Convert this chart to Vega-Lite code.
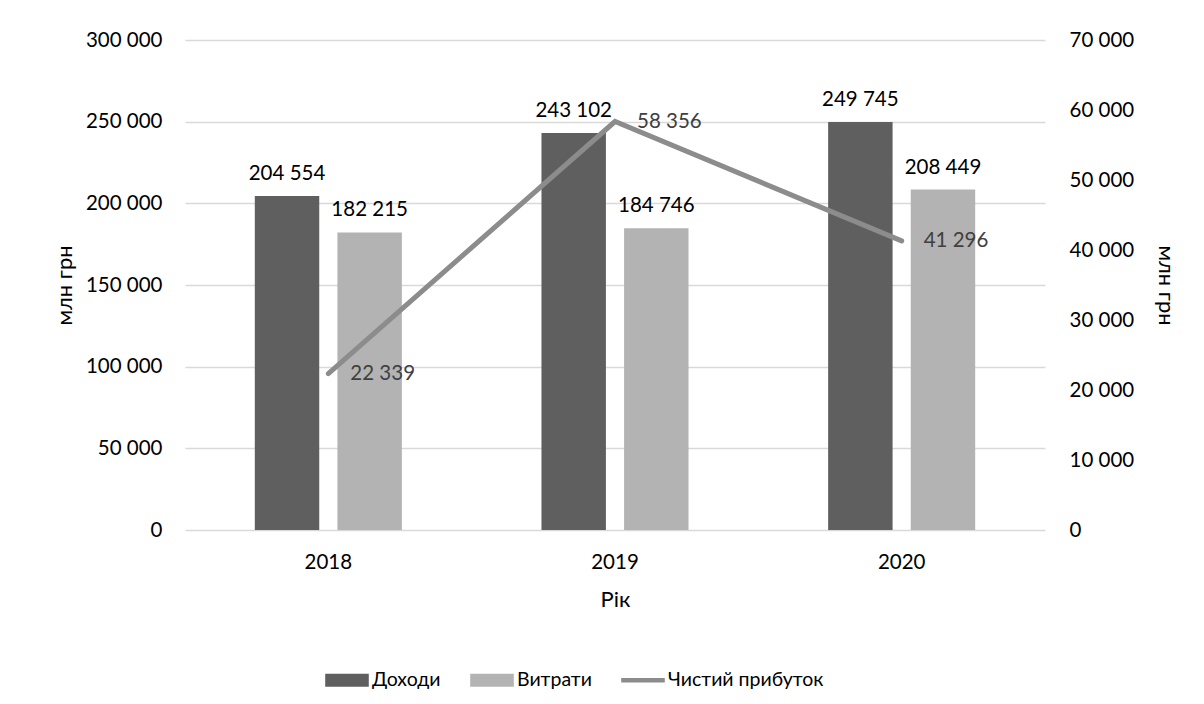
{
  "$schema": "https://vega.github.io/schema/vega-lite/v6.json",
  "width": 860,
  "height": 490,
  "autosize": {"type": "none"},
  "padding": {"left": 185, "top": 40, "right": 159, "bottom": 174},
  "background": "white",
  "config": {
    "font": "Lato",
    "locale": {"number": {"decimal": ",", "thousands": " ", "grouping": [3], "currency": ["", ""]}},
    "view": {"stroke": null},
    "axis": {"labelFont": "Lato", "titleFont": "Lato", "labelColor": "#000000", "titleColor": "#000000", "labelFontSize": 20.5, "titleFontSize": 22, "titleFontWeight": "normal", "domain": false, "ticks": false},
    "legend": {"labelFont": "Lato", "labelFontSize": 19.5, "labelColor": "#000000"}
  },
  "datasets": {
    "bars": [
      {"year": "2018", "series": "Доходи", "value": 204554},
      {"year": "2018", "series": "Витрати", "value": 182215},
      {"year": "2019", "series": "Доходи", "value": 243102},
      {"year": "2019", "series": "Витрати", "value": 184746},
      {"year": "2020", "series": "Доходи", "value": 249745},
      {"year": "2020", "series": "Витрати", "value": 208449}
    ],
    "profit": [
      {"year": "2018", "series": "Чистий прибуток", "profit": 22339},
      {"year": "2019", "series": "Чистий прибуток", "profit": 58356},
      {"year": "2020", "series": "Чистий прибуток", "profit": 41296}
    ]
  },
  "encoding": {
    "x": {
      "field": "year", "type": "nominal",
      "scale": {"paddingInner": 0.487, "paddingOuter": 0.2435},
      "axis": {"title": "Рік", "labelAngle": 0, "labelPadding": 22, "titlePadding": 17, "grid": false}
    }
  },
  "layer": [
    {
      "data": {"name": "bars"},
      "encoding": {
        "xOffset": {"field": "series", "type": "nominal", "sort": ["Доходи", "Витрати"], "scale": {"paddingInner": 0.22, "paddingOuter": 0}},
        "y": {
          "field": "value", "type": "quantitative",
          "scale": {"domain": [0, 300000], "nice": false},
          "axis": {"title": "млн грн", "values": [0, 50000, 100000, 150000, 200000, 250000, 300000], "format": ",d", "labelPadding": 23, "titlePadding": 9, "grid": true, "gridColor": "#d9d9d9", "gridWidth": 1.3}
        }
      },
      "layer": [
        {
          "mark": {"type": "bar"},
          "encoding": {
            "color": {
              "field": "series", "type": "nominal",
              "scale": {"domain": ["Доходи", "Витрати", "Чистий прибуток"], "range": ["#5f5f5f", "#b3b3b3", "#8c8c8c"]},
              "legend": {
                "title": null, "orient": "none", "legendX": 140, "legendY": 618, "direction": "horizontal",
                "symbolStrokeWidth": 0, "symbolSize": 1900, "columnPadding": 29, "labelOffset": 3,
                "symbolType": "M-1,-0.3H1V0.3H-1Z",
                "encode": {"symbols": {"update": {"shape": {"signal": "datum.value === 'Чистий прибуток' ? 'M-1,-0.1H1V0.1H-1Z' : 'M-1,-0.3H1V0.3H-1Z'"}}}}
              }
            }
          }
        },
        {
          "mark": {"type": "text", "baseline": "bottom", "dy": -12, "fontSize": 20.5, "color": "#000000"},
          "encoding": {
            "text": {"field": "value", "type": "quantitative", "format": ",d"}
          }
        }
      ]
    },
    {
      "data": {"name": "profit"},
      "encoding": {
        "y": {
          "field": "profit", "type": "quantitative",
          "scale": {"domain": [0, 70000], "nice": false},
          "axis": {"orient": "right", "title": "млн грн", "values": [0, 10000, 20000, 30000, 40000, 50000, 60000, 70000], "format": ",d", "labelPadding": 24, "titlePadding": 20, "grid": false}
        }
      },
      "layer": [
        {
          "mark": {"type": "line", "strokeWidth": 5, "strokeCap": "round", "strokeJoin": "miter", "color": "#8c8c8c"},
          "encoding": {
            "color": {"field": "series", "type": "nominal"}
          }
        },
        {
          "mark": {"type": "text", "align": "left", "baseline": "middle", "dx": 22, "fontSize": 20.5, "color": "#404040"},
          "encoding": {
            "text": {"field": "profit", "type": "quantitative", "format": ",d"}
          }
        }
      ]
    }
  ],
  "resolve": {"scale": {"y": "independent"}}
}
